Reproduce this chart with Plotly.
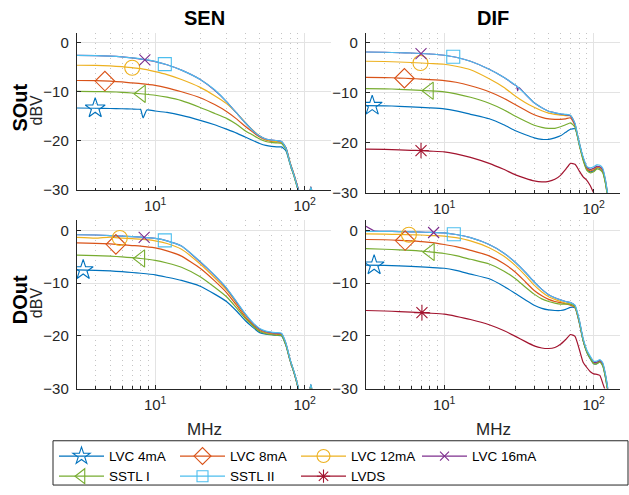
import numpy as np
import plotly.graph_objects as go

# ---------------- data ----------------
FREQ_MHZ = [3, 4, 5, 6, 7, 8, 10, 12, 15, 20, 25, 30, 35, 40, 45, 50, 55, 60, 65, 70,
            75, 80, 85, 90, 95, 100, 105, 110, 115, 120, 125, 130]

SERIES = ["LVC 4mA", "LVC 8mA", "LVC 12mA", "LVC 16mA", "SSTL I", "SSTL II", "LVDS"]
COLORS = ["#0072BD", "#D95319", "#EDB120", "#7E2F8E", "#77AC30", "#4DBEEE", "#A2142F"]
SYMBOLS = ["star-open", "diamond-open", "circle-open", "x-thin-open",
           "triangle-left-open", "square-open", "asterisk-open"]
MARKER_SIZES = [15, 15, 15, 11, 15, 13, 13]
LEGEND_ROW = [1, 1, 1, 1, 2, 2, 2]

PANEL_TITLES = ["SEN", "DIF"]
ROW_LABELS = ["SOut", "DOut"]
Y_TICKS = [-30, -20, -10, 0]
X_TICKS = [10, 100]
X_TICK_TEXT = ["10<sup>1</sup>", "10<sup>2</sup>"]
X_MINOR = [4, 5, 6, 7, 8, 9, 20, 30, 40, 50, 60, 70, 80, 90]

# SEN / SOut (dBV)
SEN_SOUT_4MA = [-13.3, -13.35, -13.4, -13.45, -13.5, -13.6, -13.9, -14.2, -14.8, -15.8, -16.7, -17.6, -18.4, -19.2, -19.9, -20.5, -20.9, -21.1, -21.2, -21.2,
                -22.0, -24.8, -27.2, -29.8, -32.0, -34.0, -32.5, -29.6, -32.0, -35, -36, -36]
SEN_SOUT_8MA = [-7.7, -7.75, -7.85, -8.0, -8.2, -8.35, -8.7, -9.2, -10.0, -11.2, -12.6, -14.0, -15.5, -17.0, -18.2, -19.2, -19.8, -20.1, -20.2, -20.3,
                -21.6, -24.6, -27.1, -29.7, -32.0, -34.0, -32.5, -29.5, -32.0, -35, -36, -36]
SEN_SOUT_12MA = [-4.6, -4.65, -4.75, -4.9, -5.1, -5.3, -5.9, -6.5, -7.5, -9.1, -10.8, -12.4, -14.3, -16.2, -17.8, -19.0, -19.7, -20.0, -20.1, -20.2,
                 -21.4, -24.4, -26.8, -29.5, -32.0, -34.0, -32.5, -29.4, -32.0, -35, -36, -36]
SEN_SOUT_16MA = [-2.6, -2.65, -2.75, -2.9, -3.1, -3.35, -3.85, -4.5, -5.6, -7.5, -9.7, -12.0, -14.3, -16.3, -17.9, -19.0, -19.6, -19.8, -19.9, -20.1,
                 -21.4, -24.5, -26.9, -29.4, -32.0, -34.0, -32.5, -29.3, -32.0, -35, -36, -36]
SEN_SOUT_SSTL1 = [-9.9, -9.95, -10.0, -10.1, -10.25, -10.4, -10.7, -11.1, -11.8, -13.2, -14.4, -15.4, -16.6, -17.9, -18.8, -19.6, -20.1, -20.3, -20.4, -20.5,
                  -21.7, -24.7, -27.2, -29.8, -32.0, -34.0, -32.5, -29.6, -32.0, -35, -36, -36]
SEN_SOUT_SSTL2 = [-2.6, -2.65, -2.75, -2.9, -3.1, -3.3, -3.8, -4.5, -5.6, -7.5, -9.6, -12.0, -14.3, -16.3, -17.9, -19.0, -19.6, -19.8, -19.9, -20.1,
                  -21.5, -24.6, -27.0, -29.6, -32.0, -34.0, -32.5, -29.4, -32.0, -35, -36, -36]
SEN_SOUT_4MA_NOTCH_F = [7.8, 8.3, 8.8]
SEN_SOUT_4MA_NOTCH_DB = [-13.55, -15.3, -13.7]

# DIF / SOut (dBV)
DIF_SOUT_4MA = [-12.55, -12.6, -12.7, -12.8, -12.9, -13.0, -13.2, -13.6, -14.3, -15.2, -16.4, -17.6, -18.4, -19.0, -19.3, -19.3, -19.0, -18.6, -17.9, -17.3,
                -17.2, -19.8, -23.2, -25.3, -25.8, -25.6, -25.0, -25.1, -25.8, -28.0, -31.5, -34]
DIF_SOUT_8MA = [-6.9, -6.95, -7.05, -7.15, -7.25, -7.35, -7.55, -7.9, -8.6, -9.8, -11.1, -12.4, -13.5, -14.4, -14.9, -15.2, -15.3, -15.3, -15.2, -15.0,
                -16.6, -20.2, -23.3, -25.2, -25.6, -25.4, -24.9, -25.0, -25.7, -27.9, -31.3, -34]
DIF_SOUT_12MA = [-3.7, -3.75, -3.85, -3.95, -4.05, -4.15, -4.3, -4.7, -5.4, -7.2, -8.9, -10.7, -12.0, -12.9, -13.6, -14.05, -14.3, -14.45, -14.55, -14.6,
                 -16.3, -20.1, -23.0, -25.0, -25.4, -25.2, -24.8, -24.9, -25.6, -27.8, -31.0, -34]
DIF_SOUT_16MA = [-1.85, -1.9, -2.0, -2.05, -2.15, -2.25, -2.5, -2.9, -3.7, -5.3, -6.9, -8.5, -10.3, -12.0, -13.0, -13.7, -14.0, -14.25, -14.4, -14.6,
                 -16.3, -20.2, -23.0, -24.9, -25.3, -25.1, -24.7, -24.8, -25.4, -27.6, -30.9, -34]
DIF_SOUT_SSTL1 = [-9.15, -9.2, -9.3, -9.4, -9.5, -9.6, -9.8, -10.2, -10.9, -12.1, -13.4, -14.7, -15.7, -16.5, -16.9, -17.1, -17.1, -16.8, -16.4, -16.0,
                  -16.9, -20.4, -23.5, -25.5, -26.0, -25.8, -25.2, -25.4, -26.0, -28.2, -31.5, -34]
DIF_SOUT_SSTL2 = [-1.85, -1.9, -2.0, -2.05, -2.15, -2.25, -2.5, -2.9, -3.7, -5.3, -6.9, -8.5, -10.3, -12.0, -13.0, -13.7, -14.0, -14.2, -14.3, -14.5,
                  -16.1, -20.0, -22.8, -24.7, -25.0, -24.8, -24.4, -24.5, -25.1, -27.4, -30.8, -34]
DIF_SOUT_LVDS = [-21.25, -21.3, -21.4, -21.5, -21.55, -21.65, -21.8, -22.2, -22.9, -24.1, -25.3, -26.4, -27.1, -27.6, -27.8, -27.7, -27.3, -26.5, -25.3, -24.1,
                 -24.3, -25.6, -26.8, -27.5, -28.6, -30.0, -31.0, -32.0, -33, -34, -35, -36]
DIF_SOUT_16MA_SPIKE_F = [30.5, 31.0, 31.5]
DIF_SOUT_16MA_SPIKE_DB = [-8.6, -9.6, -8.9]

# SEN / DOut (dBV)
SEN_DOUT_4MA = [-7.5, -7.6, -7.7, -7.85, -8.0, -8.15, -8.45, -8.9, -9.5, -10.6, -12.1, -13.5, -15.3, -17.1, -18.4, -19.4, -19.7, -19.8, -19.9, -20.0,
                -21.9, -24.8, -27.1, -29.7, -32.5, -34, -32.5, -29.3, -32, -35, -36, -36]
SEN_DOUT_8MA = [-2.4, -2.5, -2.6, -2.75, -2.9, -3.0, -3.35, -3.9, -4.9, -7.2, -9.6, -11.8, -14.2, -16.4, -17.9, -19.0, -19.4, -19.6, -19.7, -19.8,
                -21.7, -24.7, -27.0, -29.6, -32.5, -34, -32.5, -29.4, -32, -35, -36, -36]
SEN_DOUT_12MA = [-1.35, -1.5, -1.3, -1.5, -1.6, -1.7, -2.0, -2.5, -3.6, -6.4, -9.0, -11.3, -13.8, -16.1, -17.7, -18.8, -19.3, -19.5, -19.6, -19.7,
                 -21.6, -24.6, -26.9, -29.5, -32.5, -34, -32.5, -29.5, -32, -35, -36, -36]
SEN_DOUT_16MA = [-0.85, -0.9, -1.0, -1.1, -1.2, -1.3, -1.55, -2.0, -3.0, -6.0, -8.6, -11.0, -13.6, -15.9, -17.6, -18.7, -19.2, -19.4, -19.5, -19.6,
                 -21.5, -24.6, -26.9, -29.5, -32.5, -34, -32.5, -29.3, -32, -35, -36, -36]
SEN_DOUT_SSTL1 = [-4.7, -4.8, -4.9, -5.05, -5.2, -5.35, -5.7, -6.2, -7.0, -8.8, -10.8, -12.6, -14.7, -16.7, -18.1, -19.2, -19.6, -19.8, -19.9, -19.9,
                  -21.8, -24.7, -27.0, -29.6, -32.5, -34, -32.5, -29.4, -32, -35, -36, -36]
SEN_DOUT_SSTL2 = [-0.85, -0.9, -1.0, -1.1, -1.2, -1.3, -1.55, -2.0, -3.0, -5.9, -8.5, -10.9, -13.5, -15.8, -17.5, -18.6, -19.1, -19.3, -19.4, -19.5,
                  -21.4, -24.5, -26.8, -29.4, -32.5, -34, -32.5, -29.2, -32, -35, -36, -36]

# DIF / DOut (dBV)
DIF_DOUT_4MA = [-6.6, -6.65, -6.75, -6.85, -6.95, -7.05, -7.2, -7.6, -8.3, -9.2, -10.6, -12.0, -13.2, -14.2, -14.8, -15.1, -15.2, -15.2, -15.0, -14.6,
                -14.7, -17.5, -20.9, -23.1, -24.4, -25.3, -25.3, -24.9, -25.6, -27.9, -31.0, -34]
DIF_DOUT_8MA = [-1.75, -1.8, -1.9, -2.0, -2.15, -2.3, -2.7, -3.1, -3.8, -4.85, -6.3, -7.95, -9.8, -11.4, -12.4, -13.1, -13.5, -13.7, -13.9, -14.2,
                -14.6, -17.3, -20.8, -23.0, -24.2, -25.1, -25.1, -24.8, -25.5, -27.7, -30.8, -34]
DIF_DOUT_12MA = [-0.7, -0.75, -0.8, -0.85, -0.9, -1.0, -1.1, -1.4, -2.0, -3.3, -4.9, -6.7, -8.6, -10.4, -11.7, -12.6, -13.1, -13.5, -13.8, -14.0,
                 -14.5, -17.2, -20.7, -22.9, -24.1, -25.0, -25.0, -24.7, -25.4, -27.6, -30.7, -34]
DIF_DOUT_16MA = [0.75, -0.2, -0.25, -0.3, -0.35, -0.4, -0.5, -0.8, -1.4, -2.7, -4.3, -6.1, -8.0, -9.8, -11.2, -12.2, -12.8, -13.2, -13.5, -13.7,
                 -14.3, -17.0, -20.7, -22.9, -24.1, -25.0, -25.0, -24.7, -25.3, -27.5, -30.5, -34]
DIF_DOUT_SSTL1 = [-3.5, -3.6, -3.7, -3.8, -3.95, -4.1, -4.4, -4.8, -5.5, -6.4, -7.7, -9.2, -10.8, -12.1, -13.0, -13.5, -13.8, -14.0, -14.0, -14.0,
                  -14.5, -17.2, -20.9, -23.1, -24.3, -25.3, -25.3, -25.0, -25.7, -27.9, -31.0, -34]
DIF_DOUT_SSTL2 = [-0.2, -0.2, -0.25, -0.3, -0.35, -0.4, -0.5, -0.8, -1.4, -2.7, -4.3, -6.1, -8.0, -9.8, -11.2, -12.2, -12.8, -13.2, -13.5, -13.7,
                  -14.2, -16.9, -20.5, -22.7, -23.9, -24.8, -24.8, -24.5, -25.1, -27.3, -30.4, -34]
DIF_DOUT_LVDS = [-15.2, -15.3, -15.4, -15.5, -15.6, -15.7, -15.9, -16.3, -16.9, -17.9, -19.0, -20.1, -21.1, -21.9, -22.3, -22.4, -22.2, -21.6, -20.7, -19.75,
                 -20.1, -22.5, -25.0, -26.0, -26.8, -27.2, -27.3, -27.5, -29.0, -30.5, -32, -34]
DIF_DOUT_16MA_EDGE_F = [3.4]
DIF_DOUT_16MA_EDGE_DB = [-0.1]

# frequencies (MHz) where each series carries its marker, per panel
MARK_F_SEN_SOUT = [3.97, 4.61, 7.02, 8.53, 8.1, 11.6, None]
MARK_F_DIF_SOUT = [3.3, 5.42, 6.94, 7.0, 7.97, 11.5, 7.0]
MARK_F_SEN_DOUT = [3.3, 5.46, 5.8, 8.44, 8.02, 11.6, None]
MARK_F_DIF_DOUT = [3.4, 5.48, 5.81, 8.5, 8.09, 11.6, 7.1]

# ---------------- figure ----------------
W, H = 629, 495
FONT = "Liberation Sans, Arial, Helvetica, sans-serif"
AX = "#262626"


def px_x(p):
    return p / W


def px_y(p):
    return 1 - p / H


def merge(base, extra_f=None, extra_v=None):
    f = list(FREQ_MHZ)
    v = list(base)
    if extra_f:
        f += list(extra_f)
        v += list(extra_v)
    order = np.argsort(f)
    return np.array(f)[order], np.array(v)[order]


panels = [
    dict(ax="", dom_x=(77, 331), dom_y=(33.3, 193.3), marks=MARK_F_SEN_SOUT,
         data=[merge(SEN_SOUT_4MA, SEN_SOUT_4MA_NOTCH_F, SEN_SOUT_4MA_NOTCH_DB), merge(SEN_SOUT_8MA),
               merge(SEN_SOUT_12MA), merge(SEN_SOUT_16MA), merge(SEN_SOUT_SSTL1), merge(SEN_SOUT_SSTL2), None]),
    dict(ax="2", dom_x=(366, 620), dom_y=(33.3, 196.0), marks=MARK_F_DIF_SOUT,
         data=[merge(DIF_SOUT_4MA), merge(DIF_SOUT_8MA), merge(DIF_SOUT_12MA),
               merge(DIF_SOUT_16MA, DIF_SOUT_16MA_SPIKE_F, DIF_SOUT_16MA_SPIKE_DB),
               merge(DIF_SOUT_SSTL1), merge(DIF_SOUT_SSTL2), merge(DIF_SOUT_LVDS)]),
    dict(ax="3", dom_x=(77, 331), dom_y=(223.3, 395.0), marks=MARK_F_SEN_DOUT,
         data=[merge(SEN_DOUT_4MA), merge(SEN_DOUT_8MA), merge(SEN_DOUT_12MA), merge(SEN_DOUT_16MA),
               merge(SEN_DOUT_SSTL1), merge(SEN_DOUT_SSTL2), None]),
    dict(ax="4", dom_x=(366, 620), dom_y=(223.3, 395.0), marks=MARK_F_DIF_DOUT,
         data=[merge(DIF_DOUT_4MA), merge(DIF_DOUT_8MA), merge(DIF_DOUT_12MA),
               merge(DIF_DOUT_16MA, DIF_DOUT_16MA_EDGE_F, DIF_DOUT_16MA_EDGE_DB),
               merge(DIF_DOUT_SSTL1), merge(DIF_DOUT_SSTL2), merge(DIF_DOUT_LVDS)]),
]

fig = go.Figure()
layout = dict(
    width=W, height=H, autosize=False,
    margin=dict(l=0, r=0, t=0, b=0),
    paper_bgcolor="white", plot_bgcolor="white",
    font=dict(family=FONT, size=15, color=AX),
    showlegend=True,
)

for p in panels:
    xa, ya = "x" + p["ax"], "y" + p["ax"]
    for i, name in enumerate(SERIES):
        d = p["data"][i]
        if d is None:
            continue
        f, v = d
        fig.add_trace(go.Scatter(
            x=f, y=v, mode="lines", xaxis=xa, yaxis=ya,
            line=dict(color=COLORS[i], width=1.2, shape="spline", smoothing=0.5),
            showlegend=False, hoverinfo="skip"))
    for i, name in enumerate(SERIES):
        d = p["data"][i]
        mf = p["marks"][i]
        if d is None or mf is None:
            continue
        f, v = d
        mv = float(np.interp(np.log10(mf), np.log10(f), v))
        fig.add_trace(go.Scatter(
            x=[mf], y=[mv], mode="markers", xaxis=xa, yaxis=ya,
            marker=dict(symbol=SYMBOLS[i], size=MARKER_SIZES[i], color=COLORS[i],
                        line=dict(color=COLORS[i], width=1.1)),
            showlegend=False, hoverinfo="skip"))

    grid_common = dict(showline=True, linecolor=AX, linewidth=1.2, mirror=False,
                       ticks="inside", tickcolor=AX, ticklen=4, tickwidth=1,
                       showgrid=True, gridcolor="#e3e3e3", gridwidth=1, zeroline=False,
                       tickfont=dict(family=FONT, size=15, color=AX))
    layout["xaxis" + p["ax"]] = dict(
        type="log", range=[np.log10(3), np.log10(150)], anchor=ya,
        domain=[px_x(p["dom_x"][0]), px_x(p["dom_x"][1])],
        tickvals=X_TICKS, ticktext=X_TICK_TEXT, ticklabelstandoff=2,
        minor=dict(tickvals=X_MINOR, showgrid=True, gridcolor="#c4c4c4", griddash="1px,4px",
                   gridwidth=1, ticks="inside", ticklen=2.5, tickcolor=AX),
        **grid_common)
    layout["yaxis" + p["ax"]] = dict(
        range=[-30, 2], anchor=xa,
        domain=[px_y(p["dom_y"][1]), px_y(p["dom_y"][0])],
        tickvals=Y_TICKS, ticklabelstandoff=4,
        **grid_common)

# legend entries (one per series, drawn only in the legend); two one-row legends
for i, name in enumerate(SERIES):
    fig.add_trace(go.Scatter(
        x=[None], y=[None], mode="lines+markers", name=name, xaxis="x", yaxis="y",
        legend="legend" if LEGEND_ROW[i] == 1 else "legend2",
        line=dict(color=COLORS[i], width=1.2),
        marker=dict(symbol=SYMBOLS[i], size=MARKER_SIZES[i] - 2, color=COLORS[i],
                    line=dict(color=COLORS[i], width=1.1)),
        showlegend=True, hoverinfo="skip"))

legend_common = dict(
    orientation="h", xanchor="left", yanchor="top",
    bgcolor="rgba(0,0,0,0)", borderwidth=0,
    font=dict(family=FONT, size=13.5, color="#000000"),
    itemwidth=45, entrywidth=61, entrywidthmode="pixels",
    traceorder="normal", itemclick=False, itemdoubleclick=False)
layout["legend"] = dict(x=px_x(54), y=px_y(448), **legend_common)
layout["legend2"] = dict(x=px_x(54), y=px_y(468.5), **legend_common)

layout["shapes"] = [dict(type="rect", xref="paper", yref="paper",
                         x0=px_x(53), x1=px_x(628), y0=px_y(493), y1=px_y(448),
                         line=dict(color=AX, width=1), fillcolor="rgba(0,0,0,0)", layer="above")]

ann = []
for j, t in enumerate(PANEL_TITLES):
    cx = (panels[j]["dom_x"][0] + panels[j]["dom_x"][1]) / 2
    ann.append(dict(text="<b>%s</b>" % t, x=px_x(cx), y=px_y(18), xref="paper", yref="paper",
                    showarrow=False, font=dict(family=FONT, size=20, color="#000000"),
                    xanchor="center", yanchor="middle"))
    ann.append(dict(text="MHz", x=px_x(cx), y=px_y(437), xref="paper", yref="paper",
                    showarrow=False, font=dict(family=FONT, size=17, color=AX),
                    xanchor="center", yanchor="middle"))
for r, t in enumerate(ROW_LABELS):
    p = panels[2 * r]
    cy = (p["dom_y"][0] + p["dom_y"][1]) / 2
    ann.append(dict(text="<b>%s</b>" % t, x=px_x(20), y=px_y(cy - 4), xref="paper", yref="paper",
                    showarrow=False, textangle=-90, font=dict(family=FONT, size=20, color="#000000"),
                    xanchor="center", yanchor="middle"))
    ann.append(dict(text="dBV", x=px_x(36), y=px_y(cy - 1), xref="paper", yref="paper",
                    showarrow=False, textangle=-90, font=dict(family=FONT, size=16, color=AX),
                    xanchor="center", yanchor="middle"))
layout["annotations"] = ann

fig.update_layout(**layout)
fig.write_html("out.html", config={"displayModeBar": False, "staticPlot": True},
               post_script="document.body.style.margin='0';document.body.style.overflow='hidden';")
